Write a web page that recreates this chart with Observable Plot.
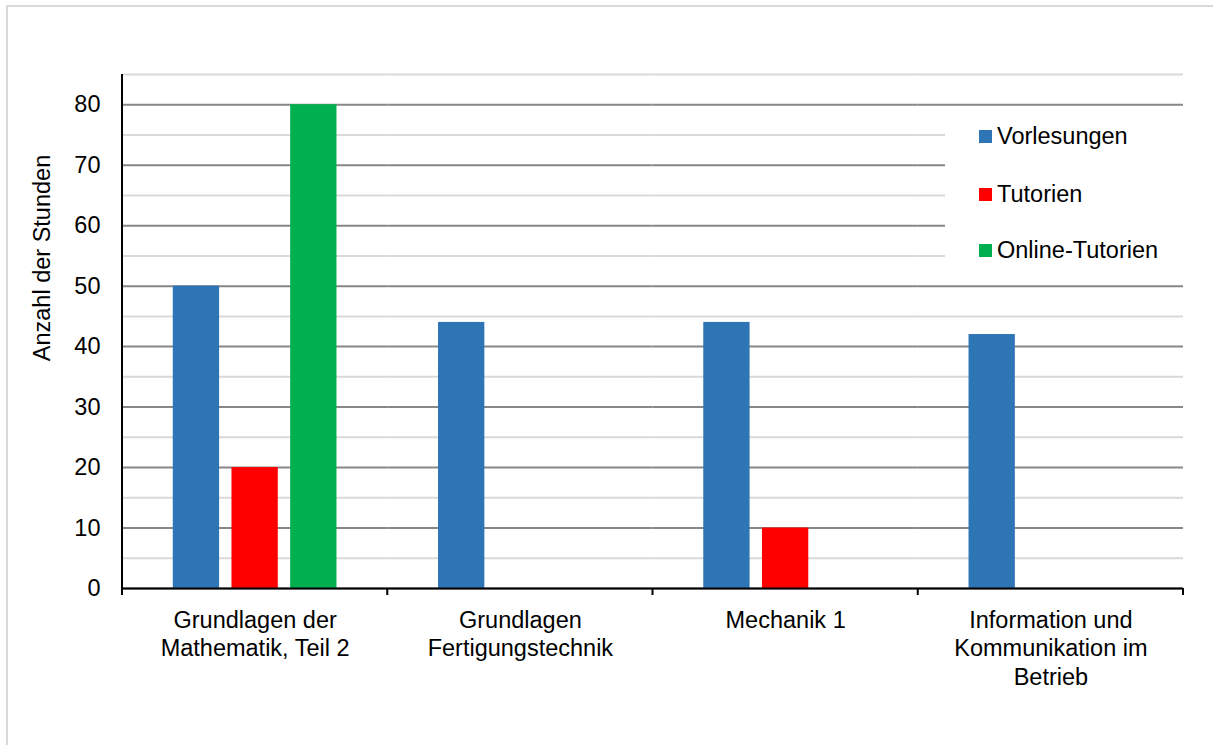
<!DOCTYPE html>
<html>
<head>
<meta charset="utf-8">
<script src="https://cdn.jsdelivr.net/npm/d3@7"></script>
<script src="https://cdn.jsdelivr.net/npm/@observablehq/plot@0.6"></script>
<style>
  body { margin: 0; background: #fff; font-family: "Liberation Sans", Arial, sans-serif; }
  #wrap { position: relative; width: 1213px; height: 745px; overflow: hidden; background: #fff; }
  #wrap svg { position: absolute; left: 0; top: 0; }
  #border { position: absolute; left: 6px; top: 5px; width: 1300px; height: 800px;
            border-left: 2px solid #d9d9d9; border-top: 2px solid #d9d9d9; pointer-events: none; }
  #ylabel { position: absolute; left: 42px; top: 258px; transform: translate(-50%, -50%) rotate(-90deg);
            white-space: nowrap; font-size: 23.5px; color: #000; }
  #legend { position: absolute; left: 945px; top: 108px; width: 238px; height: 172px; background: #fff; }
  .item { position: absolute; left: 34px; height: 26px; display: flex; align-items: center;
          font-size: 23.5px; color: #000; white-space: nowrap; }
  .sw { width: 13px; height: 13px; margin-right: 5px; flex: none; }
</style>
</head>
<body>
<div id="wrap">
  <div id="border"></div>
</div>
<script>
// ---- data ----
const categories = [
  "Grundlagen der Mathematik, Teil 2",
  "Grundlagen Fertigungstechnik",
  "Mechanik 1",
  "Information und Kommunikation im Betrieb"
];
const categoryLabels = [
  "Grundlagen der\nMathematik, Teil 2",
  "Grundlagen\nFertigungstechnik",
  "Mechanik 1",
  "Information und\nKommunikation im\nBetrieb"
];
const seriesNames = ["Vorlesungen", "Tutorien", "Online-Tutorien"];
const vorlesungen = [50, 44, 44, 42];
const tutorien = [20, null, 10, null];
const onlineTutorien = [80, null, null, null];
const seriesColors = ["#2E75B6", "#FF0000", "#00B050"];
const majorTicks = [0, 10, 20, 30, 40, 50, 60, 70, 80];
const minorTicks = [5, 15, 25, 35, 45, 55, 65, 75, 85];
const yLabel = "Anzahl der Stunden";

// ---- table ----
const seriesValues = [vorlesungen, tutorien, onlineTutorien];
const data = [];
categories.forEach((c, i) => {
  seriesNames.forEach((s, j) => {
    const v = seriesValues[j][i];
    if (v != null) data.push({category: c, series: s, value: v});
  });
});

const chart = Plot.plot({
  width: 1213,
  height: 745,
  marginLeft: 122,
  marginRight: 30,
  marginTop: 74,
  marginBottom: 157,
  style: {fontFamily: "'Liberation Sans', Arial, sans-serif", fontSize: "23.5px", background: "transparent", color: "#000"},
  fx: {domain: categories, paddingInner: 0, paddingOuter: 0, axis: null, round: false},
  x: {domain: seriesNames, paddingInner: 0.211, paddingOuter: 0.865, axis: null, round: false},
  y: {domain: [0, 85], ticks: majorTicks, tickSize: 0, tickPadding: 22, label: null, fontSize: 23.5},
  color: {domain: seriesNames, range: seriesColors},
  marks: [
    Plot.gridY(minorTicks, {stroke: "#d9d9d9", strokeOpacity: 1, strokeWidth: 2}),
    Plot.gridY(majorTicks, {stroke: "#878787", strokeOpacity: 1, strokeWidth: 2}),
    Plot.barY(data, {fx: "category", x: "series", y: "value", fill: "series"}),
    Plot.ruleY([0], {stroke: "#000", strokeWidth: 2}),
    Plot.text(categories, {
      fx: d => d,
      text: (d, i) => categoryLabels[i],
      frameAnchor: "bottom",
      lineAnchor: "top",
      dy: 19,
      fontSize: 23.5,
      lineHeight: 1.21,
      fill: "#000"
    })
  ]
});

document.getElementById("wrap").appendChild(chart);

// axis line and category separator ticks, positioned through Plot's own scales
const fxS = chart.scale("fx");
const yS = chart.scale("y");
const svg = d3.select(chart);
const y0 = yS.apply(0), yTop = yS.apply(85);
const bounds = categories.map(c => fxS.apply(c));
bounds.push(fxS.apply(categories[categories.length - 1]) + fxS.bandwidth);
const g = svg.append("g").attr("stroke", "#000").attr("stroke-width", 2);
g.append("line").attr("x1", bounds[0]).attr("x2", bounds[0]).attr("y1", yTop).attr("y2", y0);
bounds.forEach(b => {
  g.append("line").attr("x1", b).attr("x2", b).attr("y1", y0).attr("y2", y0 + 7);
});

// y label
const yl = document.createElement("div");
yl.id = "ylabel";
yl.textContent = yLabel;
document.getElementById("wrap").appendChild(yl);

// legend
const lg = document.createElement("div");
lg.id = "legend";
const rowCenters = [28.5, 86.5, 142.5];
seriesNames.forEach((s, i) => {
  const it = document.createElement("div");
  it.className = "item";
  it.style.top = (rowCenters[i] - 13) + "px";
  const sw = document.createElement("span");
  sw.className = "sw";
  sw.style.background = seriesColors[i];
  const t = document.createElement("span");
  t.textContent = s;
  it.appendChild(sw);
  it.appendChild(t);
  lg.appendChild(it);
});
document.getElementById("wrap").appendChild(lg);
</script>
</body>
</html>
